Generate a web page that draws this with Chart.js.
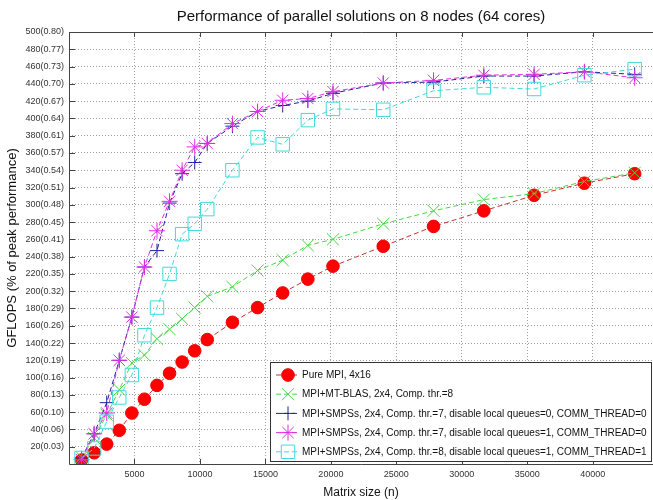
<!DOCTYPE html>
<html>
<head>
<meta charset="utf-8">
<script src="https://cdn.jsdelivr.net/npm/chart.js@4.4.1/dist/chart.umd.min.js"></script>
<style>
html, body { margin: 0; padding: 0; background: #fff; }
</style>
</head>
<body>
<canvas id="perfChart" width="653" height="500"></canvas>
<script>
// matrix sizes (n) used in every run
const matrixSizes = [960, 1920, 2880, 3840, 4800, 5760, 6720, 7680, 8640, 9600, 10560,
    12480, 14400, 16320, 18240, 20160, 24000, 27840, 31680, 35520, 39360, 43200];

// GFLOPS per configuration
const pureMpi = [4.6, 13, 23, 39, 59, 75, 91, 105, 118, 131, 144, 164, 181, 198, 214, 229, 252, 275, 293, 311, 325, 336];
const mtBlas = [8, 30, 57, 86, 117, 126, 145, 156, 168, 181, 194, 205, 224, 236, 253, 260, 278, 293, 306, 313, 327, 337];
const smpssQ0 = [7, 35, 71, 120, 170, 228, 247, 302, 336, 349, 371, 391, 408, 415, 420, 429, 441, 442, 449, 449, 454, 451];
const smpssQ1 = [5, 35, 59, 120, 170, 228, 270, 304, 340, 367, 371, 394, 408, 421, 423, 431, 441, 444, 450, 451, 454, 447];
const smpssComm = [7, 18, 49, 77, 103, 149, 181, 220, 266, 278, 295, 340, 378, 370, 398, 411, 410, 432, 436, 434, 450, 457];

const seriesLabels = [
    'Pure MPI, 4x16',
    'MPI+MT-BLAS, 2x4, Comp. thr.=8',
    'MPI+SMPSs, 2x4, Comp. thr.=7, disable local queues=0, COMM_THREAD=0',
    'MPI+SMPSs, 2x4, Comp. thr.=7, disable local queues=1, COMM_THREAD=0',
    'MPI+SMPSs, 2x4, Comp. thr.=8, disable local queues=1, COMM_THREAD=1'
];

const xTickValues = [5000, 10000, 15000, 20000, 25000, 30000, 35000, 40000];
const yTickValues = [20, 40, 60, 80, 100, 120, 140, 160, 180, 200, 220, 240, 260, 280, 300,
    320, 340, 360, 380, 400, 420, 440, 460, 480, 500];
const yTickLabels = ['20(0.03)', '40(0.06)', '60(0.10)', '80(0.13)', '100(0.16)', '120(0.19)',
    '140(0.22)', '160(0.26)', '180(0.29)', '200(0.32)', '220(0.35)', '240(0.38)', '260(0.41)',
    '280(0.45)', '300(0.48)', '320(0.51)', '340(0.54)', '360(0.57)', '380(0.61)', '400(0.64)',
    '420(0.67)', '440(0.70)', '460(0.73)', '480(0.77)', '500(0.80)'];

const toPoints = vals => vals.map((v, i) => ({ x: matrixSizes[i], y: v }));

const styles = [
    { line: '#c83030', color: '#ee0000', fill: '#ff0000', pointStyle: 'circle', radius: 6.3 },
    { line: '#44d844', color: '#44d844', fill: 'rgba(0,0,0,0)', pointStyle: 'crossRot', radius: 8.5 },
    { line: '#2020a0', color: '#2020a0', fill: 'rgba(0,0,0,0)', pointStyle: 'cross', radius: 7 },
    { line: '#e030e0', color: '#e030e0', fill: 'rgba(0,0,0,0)', pointStyle: 'star', radius: 8 },
    { line: '#40dada', color: '#40dada', fill: 'rgba(0,0,0,0)', pointStyle: 'rect', radius: 9.5 }
];
const allSeries = [pureMpi, mtBlas, smpssQ0, smpssQ1, smpssComm];

const datasets = allSeries.map((vals, i) => ({
    label: seriesLabels[i],
    data: toPoints(vals),
    borderColor: styles[i].line,
    borderWidth: 1,
    borderDash: [5, 3],
    tension: 0,
    fill: false,
    pointStyle: styles[i].pointStyle,
    pointRadius: styles[i].radius,
    pointBorderWidth: 1,
    pointBorderColor: styles[i].color,
    pointBackgroundColor: styles[i].fill,
    order: 5 - i
}));

// axes box with small inward ticks, like matlab
const framePlugin = {
    id: 'frame',
    afterDatasetsDraw(chart) {
        const { ctx, chartArea: a, scales } = chart;
        ctx.save();
        ctx.strokeStyle = '#444';
        ctx.lineWidth = 1;
        ctx.setLineDash([]);
        ctx.beginPath();
        ctx.moveTo(a.right, a.top + 0.5);
        ctx.lineTo(a.left + 0.5, a.top + 0.5);
        ctx.lineTo(a.left + 0.5, a.bottom + 0.5);
        ctx.lineTo(a.right, a.bottom + 0.5);
        xTickValues.forEach(v => {
            const px = Math.round(scales.x.getPixelForValue(v)) + 0.5;
            ctx.moveTo(px, a.bottom); ctx.lineTo(px, a.bottom - 5);
            ctx.moveTo(px, a.top); ctx.lineTo(px, a.top + 5);
        });
        yTickValues.forEach(v => {
            const py = Math.round(scales.y.getPixelForValue(v)) + 0.5;
            ctx.moveTo(a.left, py); ctx.lineTo(a.left + 6, py);
        });
        ctx.stroke();
        ctx.restore();
    }
};

// legend box in lower right of the plot
const legendPlugin = {
    id: 'boxLegend',
    afterDraw(chart) {
        const { ctx, chartArea: a } = chart;
        const left = 270.5, top = 362.5, right = a.right - 1.5, bottom = a.bottom - 2.5;
        ctx.save();
        ctx.fillStyle = '#fff';
        ctx.fillRect(left, top, right - left, bottom - top);
        ctx.strokeStyle = '#333';
        ctx.lineWidth = 1;
        ctx.strokeRect(left, top, right - left, bottom - top);
        ctx.font = '10px "Liberation Sans", Arial, sans-serif';
        ctx.textBaseline = 'middle';
        seriesLabels.forEach((lbl, i) => {
            const y = top + 12.5 + i * 19.2;
            const st = styles[i];
            ctx.strokeStyle = st.line;
            ctx.setLineDash([5, 3]);
            ctx.beginPath();
            ctx.moveTo(276, y);
            ctx.lineTo(300, y);
            ctx.stroke();
            ctx.setLineDash([]);
            ctx.strokeStyle = st.color;
            ctx.fillStyle = st.fill;
            Chart.helpers.drawPoint(ctx, { pointStyle: st.pointStyle, radius: st.radius, rotation: 0, borderWidth: 1 }, 288, y);
            ctx.fillStyle = '#111';
            ctx.fillText(lbl, 302, y + 0.5);
        });
        ctx.restore();
    }
};

new Chart(document.getElementById('perfChart').getContext('2d'), {
    type: 'line',
    data: { datasets: datasets },
    plugins: [framePlugin, legendPlugin],
    options: {
        responsive: false,
        animation: false,
        devicePixelRatio: 1,
        layout: { padding: 0, autoPadding: false },
        plugins: {
            legend: { display: false },
            tooltip: { enabled: false },
            title: {
                display: true,
                text: 'Performance of parallel solutions on 8 nodes (64 cores)',
                fullSize: false,
                color: '#111',
                font: { family: '"Liberation Sans", Arial, sans-serif', size: 15, weight: 'normal' },
                padding: { top: 8, bottom: 6 }
            }
        },
        scales: {
            x: {
                type: 'linear',
                min: 0,
                max: 44600,
                afterBuildTicks: s => { s.ticks = xTickValues.map(v => ({ value: v })); },
                afterFit: s => { s.height = 36; s.paddingLeft = 0; s.paddingRight = 0; },
                ticks: {
                    color: '#333',
                    padding: 5,
                    maxRotation: 0,
                    font: { family: '"Liberation Sans", Arial, sans-serif', size: 9 },
                    callback: v => String(v)
                },
                grid: { color: '#a0a0a0', drawTicks: false },
                border: { display: false, dash: [1, 2] },
                title: {
                    display: true,
                    text: 'Matrix size (n)',
                    color: '#111',
                    padding: 0,
                    font: { family: '"Liberation Sans", Arial, sans-serif', size: 12 }
                }
            },
            y: {
                min: 0,
                max: 500,
                afterBuildTicks: s => { s.ticks = yTickValues.map(v => ({ value: v })); },
                afterFit: s => { s.width = 69; s.paddingTop = 0; s.paddingBottom = 0; },
                ticks: {
                    color: '#333',
                    padding: 5,
                    font: { family: '"Liberation Sans", Arial, sans-serif', size: 9 },
                    callback: v => yTickLabels[yTickValues.indexOf(v)]
                },
                grid: { color: '#a0a0a0', drawTicks: false },
                border: { display: false, dash: [1, 2] },
                title: {
                    display: true,
                    text: 'GFLOPS (% of peak performance)',
                    color: '#111',
                    padding: { top: 5 },
                    font: { family: '"Liberation Sans", Arial, sans-serif', size: 13 }
                }
            }
        }
    }
});
</script>
</body>
</html>
